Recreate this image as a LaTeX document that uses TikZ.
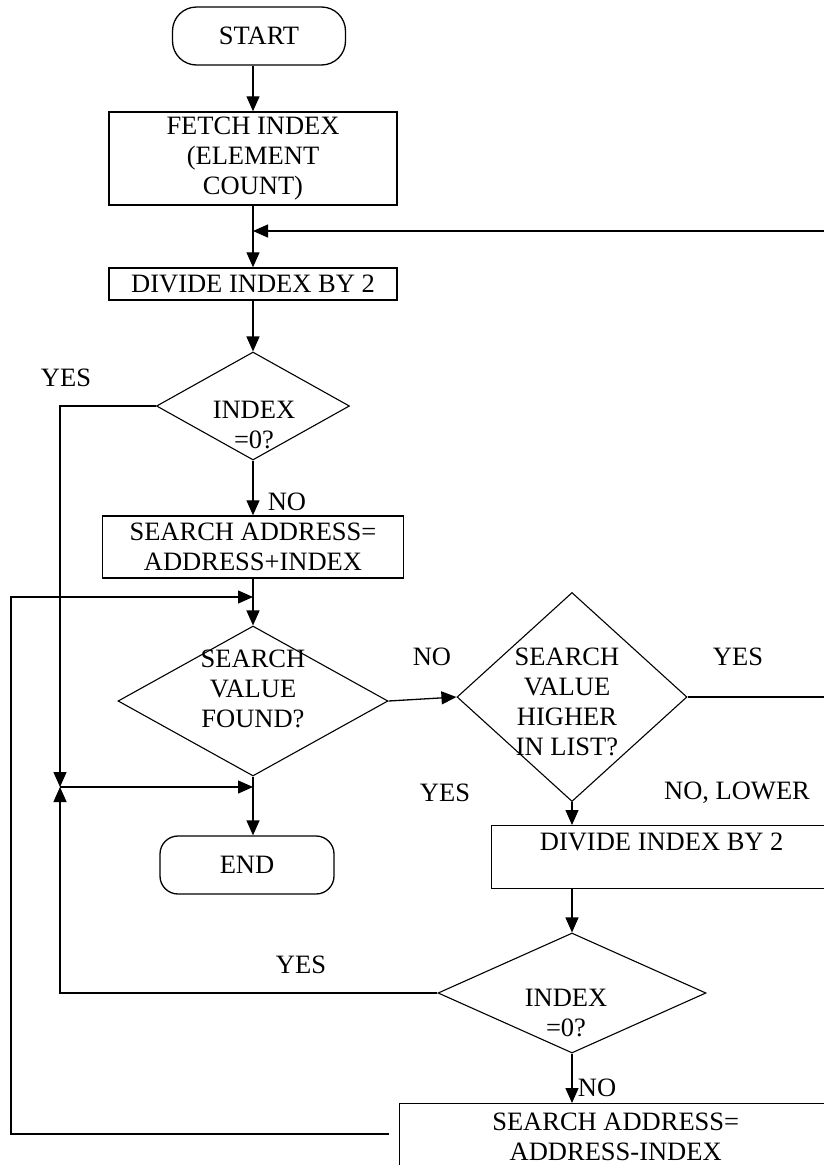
\documentclass[tikz,border=0pt]{standalone}
\usepackage{fontspec}
\setmainfont{Liberation Serif}
\usetikzlibrary{arrows.meta,shapes.geometric,calc}

\tikzset{
  term/.style={draw, line width=1.3pt, rounded corners=24pt, minimum width=173pt, minimum height=58pt, inner sep=0pt},
  proc/.style={draw, line width=1.4pt, inner sep=0pt, align=center},
  dec/.style={draw, diamond, line width=1.1pt, inner sep=0pt},
  txt/.style={inner sep=0pt, align=center},
  lbl/.style={inner sep=0pt},
  arr/.style={line width=1.3pt, -{Triangle[length=15pt,width=13pt]}},
}

\begin{document}
\begin{tikzpicture}[x=1pt,y=-1pt,font=\fontsize{26.5}{30}\selectfont]
\useasboundingbox (0,0) rectangle (823,1165);
% main column
\node[term] (start) at (259,36) {START};
\node[proc, minimum width=288pt, minimum height=93pt] (fetch) at (253,158.5) {FETCH INDEX\\(ELEMENT\\COUNT)};
\node[proc, minimum width=288pt, minimum height=32pt] (div1) at (253,284) {DIVIDE INDEX BY 2};
\node[dec, minimum width=193pt, minimum height=108pt] (d1) at (253,406) {};
\node[txt] (d1t) at (254,425) {INDEX\\=0?};
\node[proc, minimum width=301pt, minimum height=62pt] (sa1) at (253,547) {SEARCH ADDRESS=\\ADDRESS+INDEX};
\node[dec, minimum width=270pt, minimum height=150pt] (d2) at (253,701) {};
\node[txt] (d2t) at (253,689) {SEARCH\\VALUE\\FOUND?};
\node[term, minimum width=174pt, rounded corners=18pt] (end) at (247,865) {END};
% right column
\node[dec, minimum width=230pt, minimum height=209pt] (d3) at (572,697) {};
\node[txt] (d3t) at (567,702) {SEARCH\\VALUE\\HIGHER\\IN LIST?};
\node[proc, minimum width=340pt, minimum height=63pt, anchor=north west] (div2) at (491,825) {DIVIDE INDEX BY 2\\\mbox{}};
\node[dec, minimum width=268pt, minimum height=120pt] (d4) at (572,993) {};
\node[txt] (d4t) at (566,1013) {INDEX\\=0?};
\node[proc, minimum width=432pt, minimum height=66pt, anchor=north west] (sa2) at (399,1103) {SEARCH ADDRESS=\\ADDRESS-INDEX};
% labels
\node[lbl] (y1) at (66,378) {YES};
\node[lbl] (n1) at (287,502) {NO};
\node[lbl] (n2) at (432,657) {NO};
\node[lbl] (y2) at (738,657) {YES};
\node[lbl] (y3) at (445,793) {YES};
\node[lbl] (n3) at (737,793) {NO, LOWER};
\node[lbl] (y4) at (301,965) {YES};
\node[lbl] (n4) at (597,1088) {NO};
% joints
\coordinate (jn) at (60,787);
\coordinate (lp) at (11,597);
\coordinate (lb) at (11,1134);
\coordinate (rt) at (827,231);
\coordinate (rb) at (827,697);
% connectors
\draw[arr] (start.south -| fetch) -- (fetch.north);
\draw[arr] (fetch) -- (div1);
\draw[arr] (d3.east) -- (rb) -- (rt) -- (rt -| fetch);
\draw[arr] (div1) -- (d1);
\draw[arr] (d1.west) -| (jn);
\draw[arr] (d1) -- (sa1);
\draw[arr] (sa1) -- (d2);
\draw[arr, shorten <=10pt] (sa2.west |- lb) -- (lb) -- (lp) -- (lp -| d2);
\draw[arr] (d2.east) -- (d3.west);
\draw[arr] (d2.south) -- (d2.south |- end.north);
\draw[arr] (jn) -- (jn -| d2);
\draw[arr] (d4.west) -| (jn);
\draw[arr] (d3.south) -- (d3.south |- div2.north);
\draw[arr] (d4 |- div2.south) -- (d4.north);
\draw[arr] (d4.south) -- (d4.south |- sa2.north);
\end{tikzpicture}
\end{document}
